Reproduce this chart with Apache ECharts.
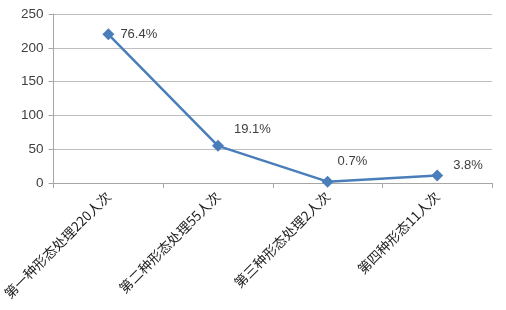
<!DOCTYPE html>
<html><head><meta charset="utf-8">
<script src="https://cdn.jsdelivr.net/npm/echarts@6/dist/echarts.min.js"></script>
<style>html,body{margin:0;padding:0;background:#fff}#c{width:506px;height:310px}</style>
</head><body><div id="c"></div>
<script>
var categories = ['第一种形态处理220人次','第二种形态处理55人次','第三种形态处理2人次','第四种形态11人次'];
var values = [220, 55, 2, 11];
var percents = ['76.4%','19.1%','0.7%','3.8%'];
var yTicks = [0, 50, 100, 150, 200, 250];

var labelOffsets = [[-2,0],[2,-16],[-4,-20],[2,-10]];
var data = values.map(function(v,i){
  return {value:v, label:{offset:labelOffsets[i]}};
});
var chart = echarts.init(document.getElementById('c'));
chart.setOption({
  animation:false,
  grid:{left:51,right:14,top:14,bottom:127},
  xAxis:{type:'category',data:categories,boundaryGap:true,
    axisLine:{lineStyle:{color:'#a6a6a6'}},
    axisTick:{show:true,length:5,lineStyle:{color:'#a6a6a6'}},
    axisLabel:{rotate:45,margin:11,fontSize:13.5,color:'#222',fontFamily:'Noto Sans CJK SC'}},
  yAxis:{type:'value',min:yTicks[0],max:yTicks[yTicks.length-1],interval:50,
    axisLine:{show:true,lineStyle:{color:'#a6a6a6'}},
    axisTick:{show:true,length:5,lineStyle:{color:'#a6a6a6'}},
    axisLabel:{fontSize:13.5,color:'#404040',margin:10,fontFamily:'Liberation Sans'},
    splitLine:{lineStyle:{color:'#bfbfbf'}}},
  series:[{type:'line',data:data,symbol:'diamond',symbolSize:12,
    lineStyle:{color:'#4a7ebb',width:2.5},
    itemStyle:{color:'#4a7ebb'},
    label:{show:true,position:'right',distance:8,fontSize:13,color:'#404040',fontFamily:'Liberation Sans',
      formatter:function(p){return percents[p.dataIndex];}}}]
});
</script></body></html>
